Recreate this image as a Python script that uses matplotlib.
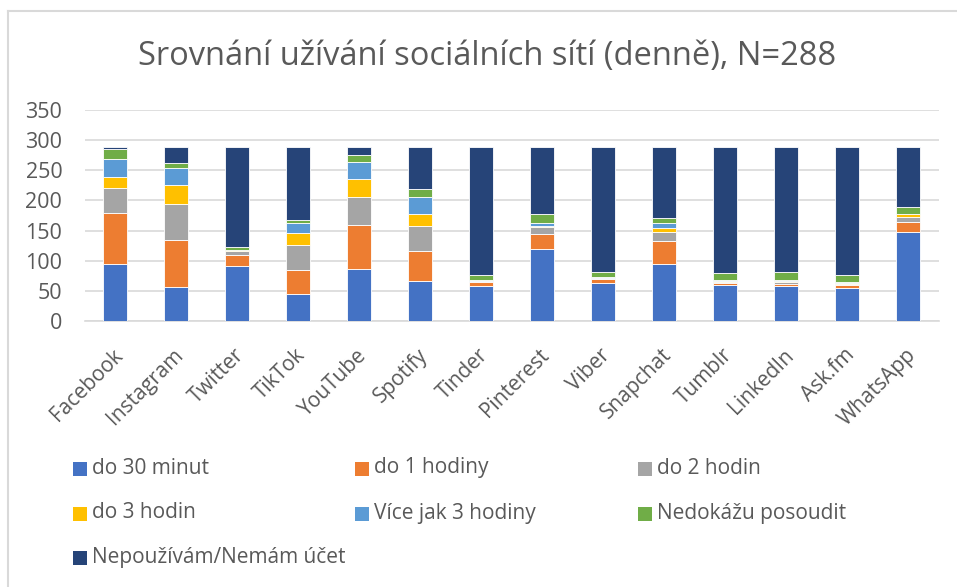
import matplotlib
matplotlib.use("Agg")
import matplotlib.pyplot as plt
from matplotlib.patches import Rectangle
from matplotlib.lines import Line2D
import matplotlib.transforms as mtransforms
import numpy as np

plt.rcParams['font.family'] = ['Open Sans', 'DejaVu Sans']

categories = ["Facebook", "Instagram", "Twitter", "TikTok", "YouTube", "Spotify", "Tinder",
              "Pinterest", "Viber", "Snapchat", "Tumblr", "LinkedIn", "Ask.fm", "WhatsApp"]

series_names = ["do 30 minut", "do 1 hodiny", "do 2 hodin", "do 3 hodin",
                "Více jak 3 hodiny", "Nedokážu posoudit", "Nepoužívám/Nemám účet"]

do_30_minut   = [95, 57, 92, 45, 86, 66, 58, 120, 63, 95, 60, 58, 55, 148]
do_1_hodiny   = [84, 78, 18, 40, 73, 50, 7, 24, 7, 38, 3, 4, 4, 17]
do_2_hodin    = [42, 59, 6, 41, 47, 42, 1, 12, 1, 15, 2, 3, 2, 8]
do_3_hodin    = [18, 32, 1, 20, 30, 20, 1, 2, 1, 7, 2, 2, 2, 4]
vice_3_hodiny = [30, 28, 1, 17, 28, 27, 1, 5, 1, 8, 1, 1, 1, 1]
nedokazu      = [16, 8, 4, 5, 12, 14, 9, 15, 9, 8, 12, 13, 12, 11]
nepouzivam    = [3, 26, 166, 120, 12, 69, 211, 110, 206, 117, 208, 207, 212, 99]

series = [do_30_minut, do_1_hodiny, do_2_hodin, do_3_hodin, vice_3_hodiny, nedokazu, nepouzivam]
colors = ["#4472C4", "#ED7D31", "#A5A5A5", "#FFC000", "#5B9BD5", "#70AD47", "#264478"]

title = "Srovnání užívání sociálních sítí (denně), N=288"
yticks = [0, 50, 100, 150, 200, 250, 300, 350]

W, H = 957, 587
fig = plt.figure(figsize=(W / 100, H / 100), dpi=100)
fig.patch.set_facecolor("white")

def fx(px):
    return px / W

def fy(py):
    return 1 - py / H

ax = fig.add_axes([fx(84.5), fy(321), fx(938.5) - fx(84.5), fy(110) - fy(321)])
x = np.arange(len(categories))
bottom = np.zeros(len(categories))
for vals, col, name in zip(series, colors, series_names):
    ax.bar(x, vals, width=0.39, bottom=bottom, color=col, edgecolor="white",
           linewidth=0.6, label=name, zorder=3)
    bottom += np.array(vals)

ax.set_xlim(-0.5, len(categories) - 0.5)
ax.set_ylim(0, 350)
ax.set_yticks(yticks)
ax.set_yticklabels([str(t) for t in yticks], fontsize=15.5, color="#595959")
ax.yaxis.grid(True, color="#d9d9d9", linewidth=1.2, zorder=0)
ax.set_axisbelow(True)
for s in ["top", "right", "left"]:
    ax.spines[s].set_visible(False)
ax.spines["bottom"].set_color("#d9d9d9")
ax.spines["bottom"].set_linewidth(1.2)
ax.tick_params(axis="both", length=0)
ax.tick_params(axis="y", pad=16)
ax.set_xticks(x)
ax.set_xticklabels(categories, rotation=45, ha="right", rotation_mode="anchor",
                   fontsize=15, color="#595959")
ax.tick_params(axis="x", pad=17)
shift = mtransforms.ScaledTranslation(-3 / 100, 0, fig.dpi_scale_trans)
for lbl in ax.get_xticklabels():
    lbl.set_transform(lbl.get_transform() + shift)

fig.text(fx(487), fy(57), title, ha="center", va="center", fontsize=23.5, color="#595959")

# Legend (Excel-style row-wise)
col_x = [73, 355, 638]
row_y = [468, 513, 557]
for i, (name, col) in enumerate(zip(series_names, colors)):
    r, c = divmod(i, 3)
    mx, my = col_x[c], row_y[r]
    fig.add_artist(Rectangle((fx(mx), fy(my + 8)), fx(14), 14 / H,
                             transform=fig.transFigure, facecolor=col, edgecolor="none"))
    fig.text(fx(mx + 19), fy(my), name, ha="left", va="center", fontsize=15, color="#595959")

# chart area border (top and left visible)
fig.add_artist(Line2D([fx(8), fx(957)], [fy(11), fy(11)], transform=fig.transFigure,
                      color="#d9d9d9", linewidth=1.5))
fig.add_artist(Line2D([fx(8), fx(8)], [fy(11), fy(587)], transform=fig.transFigure,
                      color="#d9d9d9", linewidth=1.5))

fig.savefig("out.png", dpi=100, facecolor="white")
